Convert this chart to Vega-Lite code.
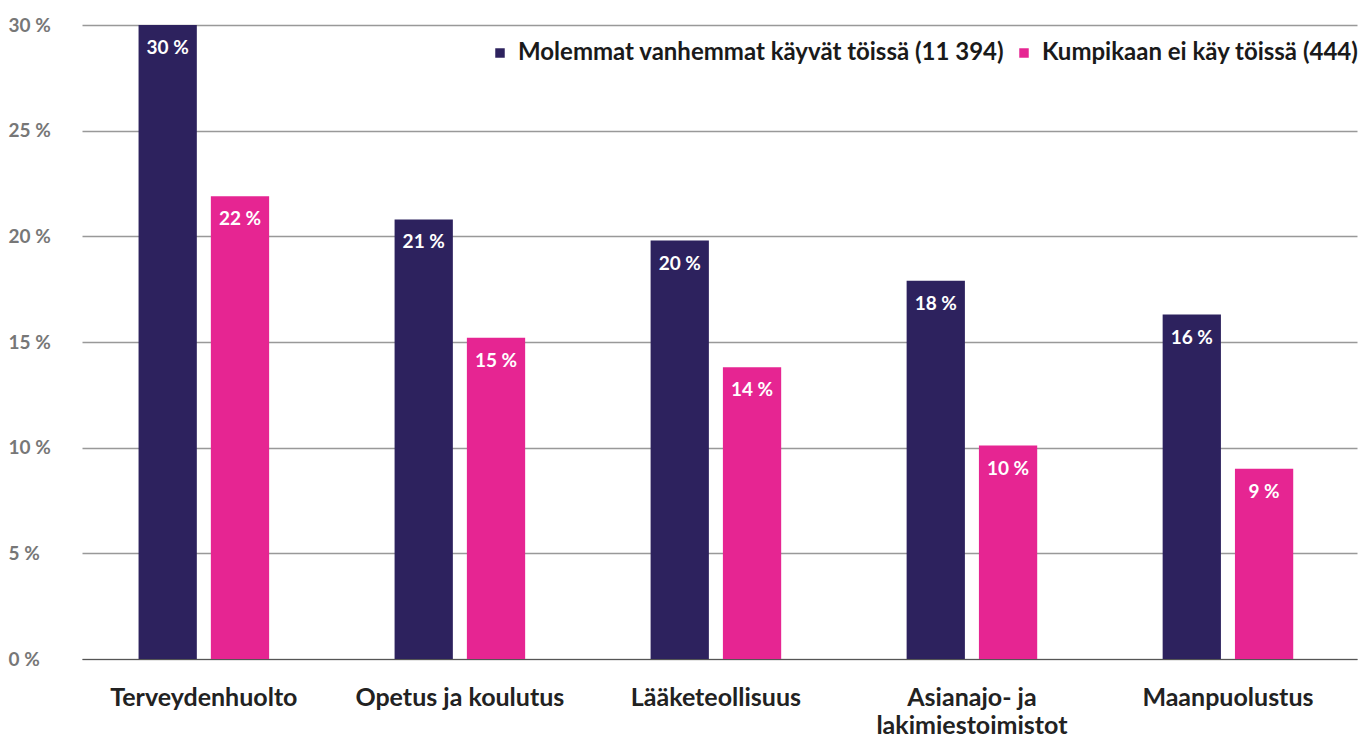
{
  "$schema": "https://vega.github.io/schema/vega-lite/v6.json",
  "autosize": {"type": "none"},
  "width": 1275,
  "height": 634,
  "padding": {"left": 82, "top": 25, "right": 13, "bottom": 79},
  "background": "white",
  "config": {"view": {"stroke": null}, "font": "Lato"},
  "data": {"values": [
    {"ala": "Terveydenhuolto", "ryhma": "Molemmat vanhemmat käyvät töissä (11 394)", "arvo": 30, "teksti": "30 %"},
    {"ala": "Terveydenhuolto", "ryhma": "Kumpikaan ei käy töissä (444)", "arvo": 21.9, "teksti": "22 %"},
    {"ala": "Opetus ja koulutus", "ryhma": "Molemmat vanhemmat käyvät töissä (11 394)", "arvo": 20.8, "teksti": "21 %"},
    {"ala": "Opetus ja koulutus", "ryhma": "Kumpikaan ei käy töissä (444)", "arvo": 15.2, "teksti": "15 %"},
    {"ala": "Lääketeollisuus", "ryhma": "Molemmat vanhemmat käyvät töissä (11 394)", "arvo": 19.8, "teksti": "20 %"},
    {"ala": "Lääketeollisuus", "ryhma": "Kumpikaan ei käy töissä (444)", "arvo": 13.8, "teksti": "14 %"},
    {"ala": "Asianajo- ja lakimiestoimistot", "ryhma": "Molemmat vanhemmat käyvät töissä (11 394)", "arvo": 17.9, "teksti": "18 %"},
    {"ala": "Asianajo- ja lakimiestoimistot", "ryhma": "Kumpikaan ei käy töissä (444)", "arvo": 10.1, "teksti": "10 %"},
    {"ala": "Maanpuolustus", "ryhma": "Molemmat vanhemmat käyvät töissä (11 394)", "arvo": 16.3, "teksti": "16 %"},
    {"ala": "Maanpuolustus", "ryhma": "Kumpikaan ei käy töissä (444)", "arvo": 9.0, "teksti": "9 %"}
  ]},
  "encoding": {
    "x": {
      "field": "ala", "type": "nominal", "sort": null, "title": null,
      "scale": {"paddingInner": 0.49, "paddingOuter": 0.235, "align": 0.47},
      "axis": {
        "labelAngle": 0, "ticks": false, "domain": true, "domainColor": "#555555", "domainWidth": 1.2,
        "labelFontSize": 25, "labelFontWeight": "bold", "labelColor": "#222222", "labelPadding": 26,
        "labelBaseline": "top", "labelLineHeight": 28, "labelLimit": 0, "labelOverlap": false, "labelDx": 6,
        "labelExpr": "datum.label == 'Asianajo- ja lakimiestoimistot' ? ['Asianajo- ja', 'lakimiestoimistot'] : datum.label"
      }
    },
    "xOffset": {"field": "ryhma", "type": "nominal", "sort": null, "scale": {"paddingInner": 0.194, "paddingOuter": 0}},
    "y": {
      "field": "arvo", "type": "quantitative", "title": null,
      "scale": {"domain": [0, 30], "nice": false},
      "axis": {
        "values": [0, 5, 10, 15, 20, 25, 30], "domain": false, "ticks": false,
        "labelExpr": "datum.value + ' %'", "labelAlign": "left", "labelPadding": 74,
        "labelFontSize": 19, "labelFontWeight": "bold", "labelColor": "#777777",
        "gridColor": "#999999", "gridWidth": 1.5
      }
    }
  },
  "layer": [
    {
      "mark": {"type": "bar"},
      "encoding": {
        "color": {
          "field": "ryhma", "type": "nominal", "sort": null, "title": null,
          "scale": {"range": ["#2D225E", "#E62592"]},
          "legend": {
            "orient": "none", "legendX": 406, "legendY": 16, "direction": "horizontal",
            "symbolType": "square", "symbolSize": 90, "labelFontSize": 24, "labelFontWeight": "bold",
            "labelColor": "#1a1a1a", "labelOffset": 6, "columnPadding": 7, "labelLimit": 700
          }
        }
      }
    },
    {
      "mark": {"type": "text", "color": "white", "fontSize": 19, "fontWeight": "bold", "baseline": "middle", "dy": 23},
      "encoding": {"text": {"field": "teksti"}}
    }
  ]
}
